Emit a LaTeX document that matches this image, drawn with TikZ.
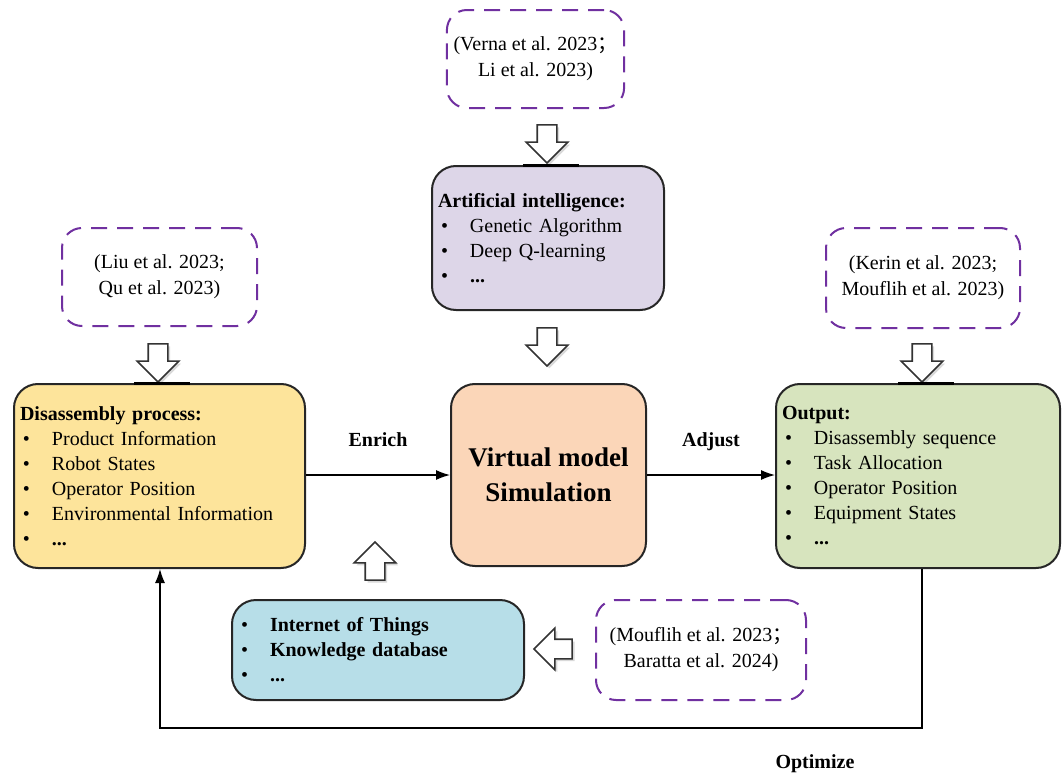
\documentclass[tikz,border=0pt]{standalone}
\usepackage{fontspec}
\setmainfont{Liberation Serif}
\newfontfamily\cjk{Noto Sans CJK SC}
\usetikzlibrary{arrows.meta,shapes.arrows,shadows}

\definecolor{refpurple}{HTML}{7030A0}
\definecolor{aifill}{HTML}{DDD6E8}
\definecolor{simfill}{HTML}{FBD6B8}
\definecolor{procfill}{HTML}{FDE49B}
\definecolor{outfill}{HTML}{D7E4BE}
\definecolor{iotfill}{HTML}{B7DEE8}

\newcommand{\itm}[1]{\hspace*{1.5pt}\makebox[14.5pt][l]{\textbullet}#1}
\newcommand{\fsemi}{{\cjk ；}}

\tikzset{
  box/.style={draw=black!85, line width=1pt, rounded corners=12pt, align=left,
    inner xsep=3pt, font=\fontsize{10}{12.5}\selectfont},
  refbox/.style={draw=refpurple, line width=1pt, dash pattern=on 8pt off 5pt,
    rounded corners=10pt, align=center, font=\fontsize{10}{13}\selectfont},
  hollow/.style={single arrow, draw=black!80, fill=white, line width=0.8pt,
    minimum height=19pt, minimum width=0pt, single arrow head extend=5.5pt,
    inner sep=4.5pt, drop shadow={opacity=0.3, shadow xshift=1.2pt, shadow yshift=-1.2pt}},
  bar/.style={line width=1.5pt},
  link/.style={-{Latex[length=7pt,width=5pt]}, line width=0.6pt},
  lbl/.style={font=\fontsize{10}{12}\selectfont\bfseries, text height=7pt, text depth=2pt}
}

\begin{document}
\begin{tikzpicture}[x=0.5pt, y=-0.5pt]
  \useasboundingbox (0,0) rectangle (1062,776);

  % main boxes
  \node (AI) [box, fill=aifill, minimum width=116pt, minimum height=72pt, text width=110pt] at (548,238)
    {\textbf{Artificial intelligence:}\\ \itm{Genetic Algorithm}\\ \itm{Deep Q-learning}\\ \itm{\textbf{...}}};
  \node (sim) [box, fill=simfill, minimum width=97.5pt, minimum height=91pt, align=center,
    font=\fontsize{13.5}{17.5}\selectfont\bfseries] at (548.5,475) {Virtual model\\ Simulation};
  \node (proc) [box, fill=procfill, minimum width=145.5pt, minimum height=92pt, text width=139.5pt] at (159.5,476)
    {\textbf{Disassembly process:}\\ \itm{Product Information}\\ \itm{Robot States}\\ \itm{Operator Position}\\
     \itm{Environmental Information}\\ \itm{\textbf{...}}};
  \node (out) [box, fill=outfill, minimum width=142pt, minimum height=92pt, text width=136pt] at (918,476)
    {\textbf{Output:}\\ \itm{Disassembly sequence}\\ \itm{Task Allocation}\\ \itm{Operator Position}\\
     \itm{Equipment States}\\ \itm{\textbf{...}}};
  \node (iot) [box, fill=iotfill, minimum width=146pt, minimum height=50pt, text width=140pt] at (378,650)
    {\itm{\textbf{Internet of Things}}\\ \itm{\textbf{Knowledge database}}\\ \itm{\textbf{...}}};

  % references
  \node (refAI) [refbox, minimum width=84.5pt, minimum height=49pt] at (535.5,59)
    {(Verna et al. 2023\fsemi\\ Li et al. 2023)};
  \node (refproc) [refbox, minimum width=97.5pt, minimum height=49pt] at (159.5,277)
    {(Liu et al. 2023;\\ Qu et al. 2023)};
  \node (refout) [refbox, minimum width=97pt, minimum height=50pt] at (923,278)
    {(Kerin et al. 2023;\\ Mouflih et al. 2023)};
  \node (refiot) [refbox, minimum width=105pt, minimum height=50pt] at (701,650)
    {(Mouflih et al. 2023\fsemi\\ Baratta et al. 2024)};

  % hollow arrows
  \node (aAI) [hollow, rotate=-90] at (547,139) {};
  \node (aAI2) [hollow, rotate=-90] at (547,342) {};
  \node (aproc) [hollow, rotate=-90] at (158,358) {};
  \node (aout) [hollow, rotate=-90] at (922,358) {};
  \node (aup) [hollow, rotate=90] at (375,566) {};
  \node (aleft) [hollow, rotate=180] at (558,649) {};

  \foreach \a/\b in {aAI/AI, aproc/proc, aout/out}
    \draw [bar] ([xshift=-12pt]\a.center |- \b.north) -- ([xshift=16pt]\a.center |- \b.north);

  % connectors
  \draw [link] (proc.east |- sim.west) -- node [lbl, above=8.5pt] {Enrich} (sim.west);
  \draw [link] (sim.east) -- node [lbl, above=8.5pt] {Adjust} (out.west |- sim.east);

  \coordinate (c1) at (922,728);
  \coordinate (c2) at (160,728);
  \draw [link] (out.south -| c1) -- (c1) -- (c2) -- (proc.south -| c2);
  \node (opt) [lbl] at (815,763) {Optimize};
\end{tikzpicture}
\end{document}
